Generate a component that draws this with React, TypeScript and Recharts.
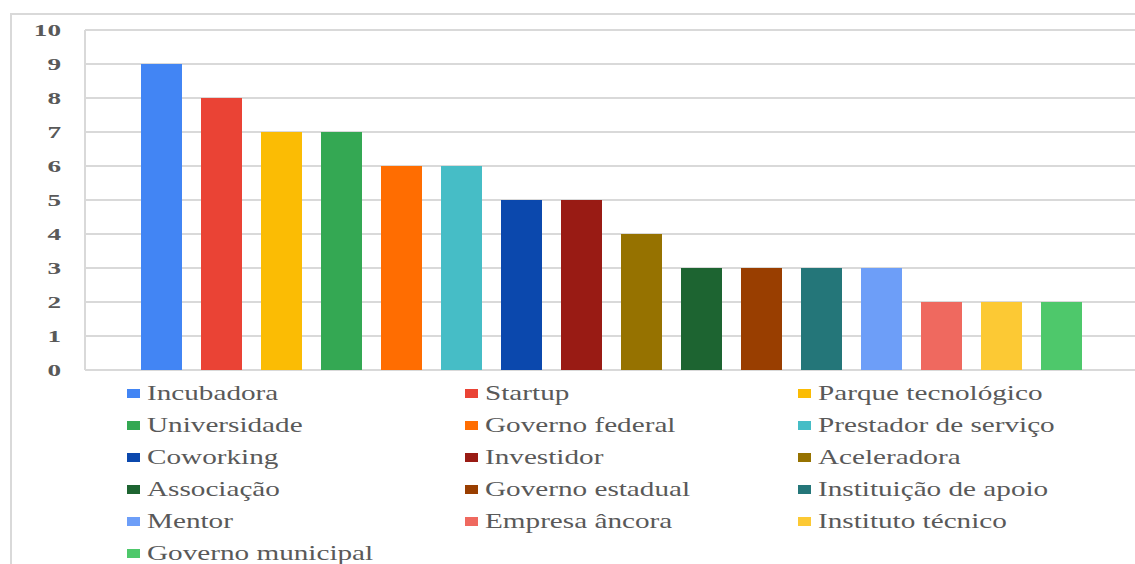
import { Bar, BarChart, CartesianGrid, Legend, XAxis, YAxis } from 'recharts'

const CATEGORIES = [
  'Incubadora',
  'Startup',
  'Parque tecnológico',
  'Universidade',
  'Governo federal',
  'Prestador de serviço',
  'Coworking',
  'Investidor',
  'Aceleradora',
  'Associação',
  'Governo estadual',
  'Instituição de apoio',
  'Mentor',
  'Empresa âncora',
  'Instituto técnico',
  'Governo municipal',
]

const VALUES = [9, 8, 7, 7, 6, 6, 5, 5, 4, 3, 3, 3, 3, 2, 2, 2]

const COLORS = [
  '#4285f4',
  '#ea4335',
  '#fbbc04',
  '#34a853',
  '#ff6d01',
  '#46bdc6',
  '#0b48ad',
  '#991b14',
  '#967200',
  '#1d6431',
  '#993e00',
  '#247679',
  '#6d9ef8',
  '#ef695f',
  '#fcc934',
  '#4ec86b',
]

const Y_TICKS = [0, 1, 2, 3, 4, 5, 6, 7, 8, 9, 10]

const row: Record<string, string | number> = { name: '' }
CATEGORIES.forEach((c, i) => {
  row[c] = VALUES[i]
})
const data = [row]

const TEXT = '#595959'
const GRID = '#d9d9d9'
const SERIF = "'Liberation Serif', 'DejaVu Serif', serif"

function YTick({ x, y, payload }: any) {
  return (
    <g transform={`translate(${x - 24},${y})`}>
      <text
        transform="scale(1.7,1)"
        textAnchor="end"
        dy="0.36em"
        fontFamily={SERIF}
        fontWeight="bold"
        fontSize={16}
        fill={TEXT}
      >
        {payload.value}
      </text>
    </g>
  )
}

// legend in series order, 3 columns like the original
function LegendGrid() {
  return (
    <div
      style={{
        display: 'grid',
        gridTemplateColumns: '338px 333px 300px',
        gridAutoRows: '32px',
      }}
    >
      {CATEGORIES.map((name, i) => (
        <div key={name} style={{ display: 'flex', alignItems: 'center' }}>
          <span style={{ width: 13, height: 9, background: COLORS[i], marginRight: 7, flex: 'none' }} />
          <span
            style={{
              fontFamily: SERIF,
              fontSize: 21,
              color: TEXT,
              whiteSpace: 'nowrap',
              display: 'inline-block',
              transform: 'scaleX(1.39)',
              transformOrigin: 'left center',
            }}
          >
            {name}
          </span>
        </div>
      ))}
    </div>
  )
}

export default function App() {
  return (
    <div
      style={{
        position: 'absolute',
        left: 0,
        top: 0,
        width: 1135,
        height: 564,
        overflow: 'hidden',
        background: '#fff',
      }}
    >
      <div
        style={{
          position: 'absolute',
          left: 10,
          top: 13,
          width: 1200,
          height: 600,
          border: `2px solid ${GRID}`,
        }}
      />
      <div style={{ position: 'absolute', left: 0, top: 0 }}>
        <BarChart
          width={1138}
          height={564}
          data={data}
          margin={{ top: 30, right: 0, bottom: 194, left: 0 }}
          barSize={41}
          barGap={19}
        >
          <CartesianGrid vertical={false} stroke={GRID} strokeWidth={2} />
          <XAxis dataKey="name" hide />
          <YAxis
            width={85}
            domain={[0, 10]}
            ticks={Y_TICKS}
            interval={0}
            tickLine={false}
            tickSize={0}
            tickMargin={0}
            axisLine={{ stroke: GRID, strokeWidth: 2 }}
            tick={<YTick />}
          />
          <Legend
            layout="horizontal"
            verticalAlign="middle"
            align="center"
            wrapperStyle={{ left: 127, top: 377, width: 1000 }}
            content={<LegendGrid />}
          />
          {CATEGORIES.map((c, i) => (
            <Bar key={c} dataKey={c} fill={COLORS[i]} isAnimationActive={false} />
          ))}
        </BarChart>
      </div>
    </div>
  )
}
